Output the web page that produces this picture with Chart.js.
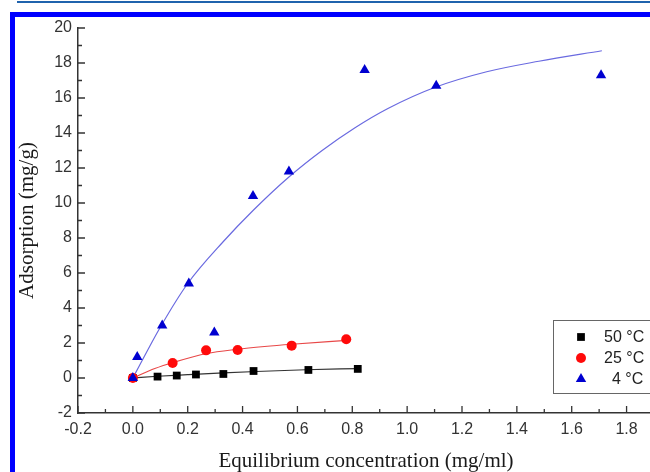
<!DOCTYPE html>
<html>
<head>
<meta charset="utf-8">
<script src="https://cdn.jsdelivr.net/npm/chart.js@4/dist/chart.umd.min.js"></script>
<style>
  html, body { margin: 0; padding: 0; background: #fff; overflow: hidden; width: 650px; height: 472px; }
  #topLine { position: absolute; left: 17px; top: 1px; width: 640px; height: 2px; background: #1f63ad; }
  #frame { position: absolute; left: 10px; top: 12px; width: 660px; height: 480px;
           border-top: 5px solid #0000ff; border-left: 5px solid #0000ff; }
  #wrap { position: absolute; left: 0; top: 0; width: 660px; height: 472px; }
</style>
</head>
<body>
<div id="topLine"></div>
<div id="frame"></div>
<div id="wrap"><canvas id="chart"></canvas></div>
<script>
// tick labels
const xTicks = [-0.2, 0.0, 0.2, 0.4, 0.6, 0.8, 1.0, 1.2, 1.4, 1.6, 1.8];
const yTicks = [-2, 0, 2, 4, 6, 8, 10, 12, 14, 16, 18, 20];

// series names
const seriesNames = ["50 \u00b0C", "25 \u00b0C", "4 \u00b0C"];

// measured points
const conc50 = [0, 0.09, 0.16, 0.23, 0.33, 0.44, 0.64, 0.82];
const ads50 = [0, 0.08, 0.14, 0.20, 0.23, 0.40, 0.46, 0.52];
const conc25 = [0, 0.145, 0.267, 0.382, 0.579, 0.778];
const ads25 = [0, 0.86, 1.58, 1.60, 1.85, 2.21];
const conc4 = [0, 0.016, 0.107, 0.204, 0.297, 0.438, 0.569, 0.845, 1.106, 1.707];
const ads4 = [0, 1.2, 3.0, 5.4, 2.6, 10.4, 11.8, 17.6, 16.7, 17.3];

// fitted curves
const fit50x = [0, 0.09, 0.2, 0.33, 0.45, 0.63, 0.82];
const fit50y = [0, 0.10, 0.19, 0.29, 0.37, 0.47, 0.54];
const fit25x = [0, 0.08, 0.15, 0.27, 0.38, 0.48, 0.58, 0.78];
const fit25y = [0, 0.54, 0.90, 1.40, 1.64, 1.80, 1.93, 2.15];
const fit4x = [0, 0.1, 0.2, 0.33, 0.44, 0.57, 0.69, 0.81, 0.93, 1.1, 1.29, 1.48, 1.71];
const fit4y = [0, 2.9, 5.4, 7.8, 9.6, 11.5, 13.0, 14.3, 15.4, 16.6, 17.5, 18.1, 18.7];

const toXY = (xs, ys) => xs.map((v, i) => ({ x: v, y: ys[i] }));

const markerStyles = [
    { pointStyle: "rect", color: "#000000", radius: 5.5 },
    { pointStyle: "circle", color: "#ff0a0a", radius: 5 },
    { pointStyle: "triangle", color: "#0000d0", radius: 6 }
];

function pointSet(idx, xs, ys, order) {
    const s = markerStyles[idx];
    return {
        type: "scatter",
        label: seriesNames[idx],
        data: toXY(xs, ys),
        pointStyle: s.pointStyle,
        pointRadius: s.radius,
        pointHoverRadius: s.radius,
        backgroundColor: s.color,
        borderColor: s.color,
        borderWidth: 0,
        showLine: false,
        order: order
    };
}

function fitLine(xs, ys, color) {
    return {
        type: "line",
        label: "fit",
        data: toXY(xs, ys),
        borderColor: color,
        borderWidth: 1.2,
        pointRadius: 0,
        fill: false,
        cubicInterpolationMode: "monotone",
        order: 5
    };
}

// small tick marks pointing into the plot
const insideTicks = {
    id: "insideTicks",
    afterDatasetsDraw(chart) {
        const { ctx, scales: { x, y }, chartArea } = chart;
        ctx.save();
        ctx.strokeStyle = "#333";
        ctx.lineWidth = 1.3;
        ctx.beginPath();
        xTicks.forEach((v, i) => {
            const px = x.getPixelForValue(v);
            ctx.moveTo(px, chartArea.bottom);
            ctx.lineTo(px, chartArea.bottom - 7);
            const next = i < xTicks.length - 1 ? xTicks[i + 1] : v + 0.2;
            const pm = x.getPixelForValue((v + next) / 2);
            ctx.moveTo(pm, chartArea.bottom);
            ctx.lineTo(pm, chartArea.bottom - 4);
        });
        yTicks.forEach((v, i) => {
            const py = y.getPixelForValue(v);
            ctx.moveTo(chartArea.left, py);
            ctx.lineTo(chartArea.left + 7, py);
            if (i < yTicks.length - 1) {
                const pm = y.getPixelForValue((v + yTicks[i + 1]) / 2);
                ctx.moveTo(chartArea.left, pm);
                ctx.lineTo(chartArea.left + 4, pm);
            }
        });
        ctx.stroke();
        ctx.restore();
    }
};

// boxed legend inside the plot, lower right
const boxLegend = {
    id: "boxLegend",
    afterDraw(chart) {
        const ctx = chart.ctx;
        const left = 553, top = 320, w = 130, h = 73;
        ctx.save();
        ctx.fillStyle = "#fff";
        ctx.fillRect(left, top, w, h);
        ctx.strokeStyle = "#666";
        ctx.lineWidth = 1;
        ctx.strokeRect(left + 0.5, top + 0.5, w, h);
        ctx.font = "16px 'Liberation Sans', Arial, sans-serif";
        ctx.textBaseline = "middle";
        seriesNames.forEach((name, i) => {
            const s = markerStyles[i];
            const cy = top + 17 + i * 21;
            const cx = 581;
            ctx.fillStyle = s.color;
            ctx.beginPath();
            if (s.pointStyle === "rect") {
                const a = s.radius * Math.SQRT1_2;
                ctx.rect(cx - a, cy - a, 2 * a, 2 * a);
            } else if (s.pointStyle === "circle") {
                ctx.arc(cx, cy, s.radius, 0, Math.PI * 2);
            } else {
                const r = s.radius;
                ctx.moveTo(cx, cy - r);
                ctx.lineTo(cx + r * 0.866, cy + r / 2);
                ctx.lineTo(cx - r * 0.866, cy + r / 2);
                ctx.closePath();
            }
            ctx.fill();
            ctx.fillStyle = "#222";
            ctx.fillText(name, i === 2 ? 612 : 604, cy + 1);
        });
        ctx.restore();
    }
};

const ctx = document.getElementById("chart").getContext("2d");
new Chart(ctx, {
    type: "scatter",
    data: {
        datasets: [
            pointSet(0, conc50, ads50, 2),
            pointSet(1, conc25, ads25, 1),
            pointSet(2, conc4, ads4, 0),
            fitLine(fit50x, fit50y, "#333333"),
            fitLine(fit25x, fit25y, "#e84848"),
            fitLine(fit4x, fit4y, "#6a6ae0")
        ]
    },
    options: {
        responsive: true,
        maintainAspectRatio: false,
        animation: false,
        layout: { padding: { top: 28, right: 2, left: 0, bottom: 0 } },
        plugins: {
            legend: { display: false },
            tooltip: { enabled: false }
        },
        scales: {
            x: {
                type: "linear",
                min: -0.2,
                max: 1.9,
                afterBuildTicks: (scale) => { scale.ticks = xTicks.map(v => ({ value: v })); },
                afterFit: (scale) => { scale.height = 59; },
                grid: { display: false, drawTicks: false },
                border: { display: true, color: "#333", width: 1.5 },
                ticks: {
                    padding: 7,
                    color: "#333",
                    font: { family: "'Liberation Sans', Arial, sans-serif", size: 16 },
                    callback: (v) => Number(v).toFixed(1),
                    maxRotation: 0
                },
                title: {
                    display: true,
                    text: "Equilibrium concentration (mg/ml)",
                    color: "#1a1a1a",
                    font: { family: "'Liberation Serif', 'Times New Roman', serif", size: 21, lineHeight: 1.0 },
                    padding: { top: 0, bottom: 0 }
                }
            },
            y: {
                type: "linear",
                min: -2,
                max: 20,
                afterBuildTicks: (scale) => { scale.ticks = yTicks.map(v => ({ value: v })); },
                afterFit: (scale) => { scale.width = 78; },
                grid: { display: false, drawTicks: false },
                border: { display: true, color: "#333", width: 1.5 },
                ticks: {
                    padding: 6,
                    color: "#333",
                    font: { family: "'Liberation Sans', Arial, sans-serif", size: 16 },
                    callback: (v) => String(v)
                },
                title: {
                    display: true,
                    text: "Adsorption (mg/g)",
                    color: "#1a1a1a",
                    font: { family: "'Liberation Serif', 'Times New Roman', serif", size: 21, lineHeight: 1.0 },
                    padding: { top: 17, bottom: 0 }
                }
            }
        }
    },
    plugins: [insideTicks, boxLegend]
});
</script>
</body>
</html>
